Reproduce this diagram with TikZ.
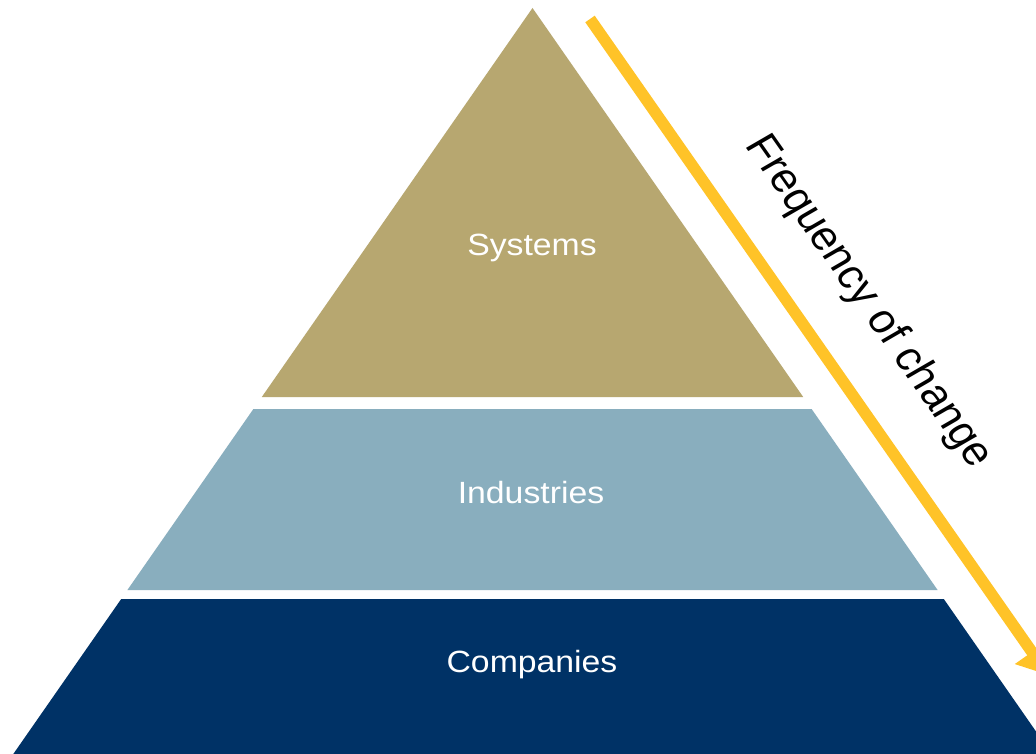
\documentclass[tikz,border=0pt]{standalone}
\usepackage{fontspec}
\usepackage{graphicx}
\setmainfont{Liberation Sans}
\usetikzlibrary{arrows.meta}
\definecolor{sysgold}{HTML}{B7A770}
\definecolor{indblue}{HTML}{89AEBE}
\definecolor{comnavy}{HTML}{003266}
\definecolor{arrowyellow}{HTML}{FFC328}
\begin{document}
\begin{tikzpicture}[x=1pt,y=-1pt,
  lbl/.style={anchor=base, text=white, inner sep=0pt, font=\fontsize{30.7}{36}\selectfont},
  freqlbl/.style={text=black, inner sep=0pt, font=\fontsize{41}{48}\selectfont},
  yarrow/.style={draw=arrowyellow, line width=11.5pt, -{Triangle[length=28pt,width=40pt]}}]
\useasboundingbox (0,0) rectangle (1036,754);
\clip (0,0) rectangle (1036,754);
\fill[white] (0,0) rectangle (1036,754);
% pyramid layers
\fill[sysgold] (532.5,8) -- (803.2,397) -- (261.8,397) -- cycle;
\fill[indblue] (253.4,409) -- (811.6,409) -- (937.6,590) -- (127.4,590) -- cycle;
\fill[comnavy] (121.2,599) -- (943.8,599) -- (1051.7,754) -- (13.3,754) -- cycle;
% labels
\node[lbl] (sys) at (532,255) {\scalebox{1.1}[1]{Systems}};
\node[lbl] (ind) at (531,503) {\scalebox{1.1}[1]{Industries}};
\node[lbl] (com) at (532,672) {\scalebox{1.1}[1]{Companies}};
% arrow
\coordinate (astart) at (590,19);
\coordinate (aend) at (1048,675);
\draw[yarrow] (astart) -- (aend);
\begin{scope}[shift={(868,302)}, xscale=1.1]
\node[freqlbl, rotate=-57.5, transform shape] (freq) at (0,0) {Frequency of change};
\end{scope}
\end{tikzpicture}
\end{document}
